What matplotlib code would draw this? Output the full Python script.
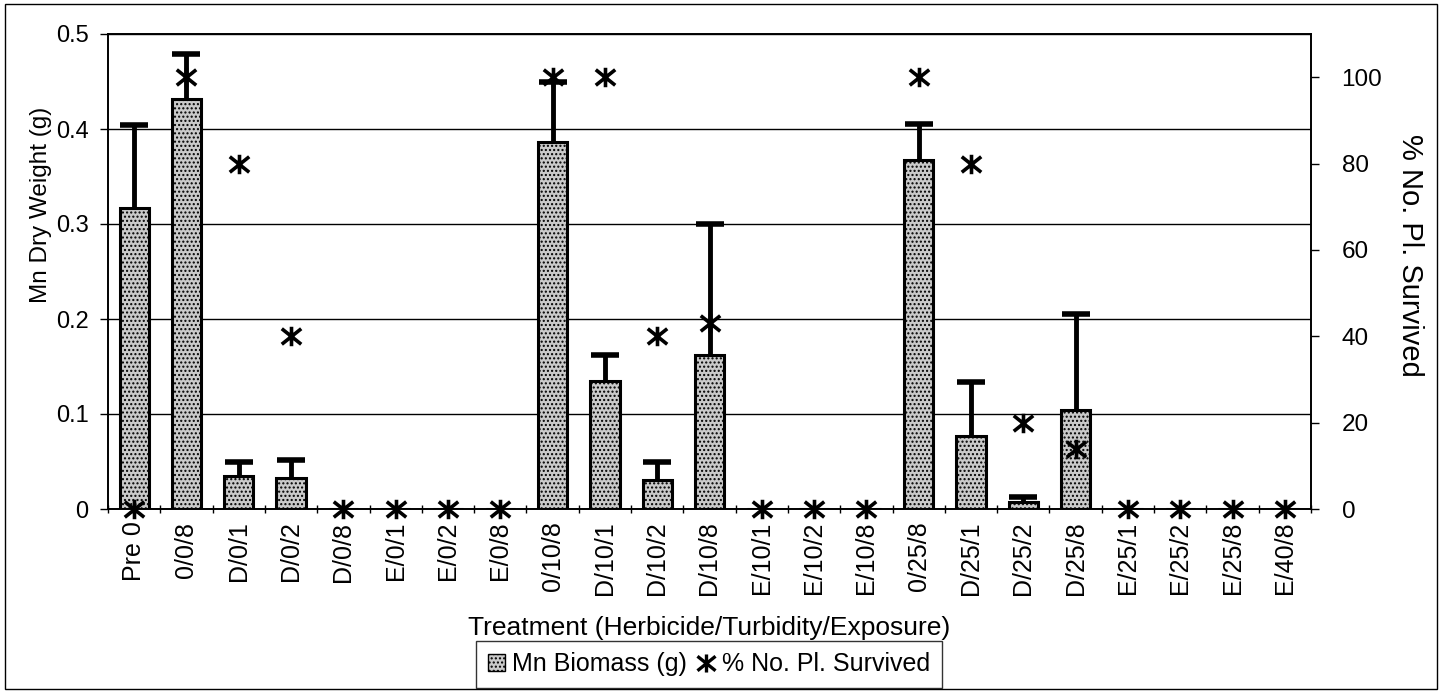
import numpy as np
import matplotlib
matplotlib.use("Agg")
import matplotlib.pyplot as plt
from matplotlib.path import Path
from matplotlib.patches import Rectangle
from matplotlib.lines import Line2D

plt.rcParams['font.family'] = ['Liberation Sans', 'DejaVu Sans']
plt.rcParams['hatch.color'] = '#9a9a9a'

categories = ["Pre 0", "0/0/8", "D/0/1", "D/0/2", "D/0/8", "E/0/1", "E/0/2", "E/0/8",
              "0/10/8", "D/10/1", "D/10/2", "D/10/8", "E/10/1", "E/10/2", "E/10/8",
              "0/25/8", "D/25/1", "D/25/2", "D/25/8", "E/25/1", "E/25/2", "E/25/8", "E/40/8"]
biomass = [0.317, 0.432, 0.035, 0.033, 0, 0, 0, 0,
           0.386, 0.135, 0.031, 0.162, 0, 0, 0,
           0.367, 0.077, 0.007, 0.104, 0, 0, 0, 0]
err_top = [0.404, 0.479, 0.050, 0.052, 0, 0, 0, 0,
           0.450, 0.162, 0.050, 0.300, 0, 0, 0,
           0.405, 0.134, 0.013, 0.205, 0, 0, 0, 0]
survived = [0, 100, 80, 40, 0, 0, 0, 0,
            100, 100, 40, 43, 0, 0, 0,
            100, 80, 20, 14, 0, 0, 0, 0]

x = np.arange(len(categories))
bio = np.array(biomass)
err_up = np.array(err_top) - bio
has_err = np.array(err_top) > 0

fig = plt.figure(figsize=(14.43, 6.93), dpi=100)
ax = fig.add_axes([108/1443, (693-509)/693, (1311-108)/1443, (509-34)/693])
ax2 = ax.twinx()

ax.set_axisbelow(True)
ax.yaxis.grid(True, color='black', linewidth=1.0)

ax.bar(x, bio, width=0.56, color='#cacaca', edgecolor='black', linewidth=2.2,
       hatch='....', zorder=2)
eb = ax.errorbar(x[has_err], bio[has_err],
                 yerr=[np.zeros(has_err.sum()), err_up[has_err]],
                 fmt='none', ecolor='black', elinewidth=3.5, capsize=10, capthick=4, zorder=3)
eb[1][0].set_visible(False)

ax.set_xlim(-0.5, len(categories) - 0.5)
ax.set_ylim(0, 0.5)
ax.set_yticks([0, 0.1, 0.2, 0.3, 0.4, 0.5])
ax.set_yticklabels(["0", "0.1", "0.2", "0.3", "0.4", "0.5"])
ax.set_xticks(x)
ax.set_xticklabels(categories, rotation=90, fontsize=18)
ax.set_xticks(np.arange(len(categories) + 1) - 0.5, minor=True)
ax.tick_params(axis='x', which='major', length=0, pad=9)
ax.tick_params(axis='x', which='minor', length=6, direction='inout', width=1)
ax.tick_params(axis='y', labelsize=17, length=6, width=1, pad=8)

verts = [(-1, -0.8), (1, 0.8), (-1, 0.8), (1, -0.8), (0, -1), (0, 1)]
codes = [Path.MOVETO, Path.LINETO] * 3
star = Path(verts, codes)

ax2.plot(x, survived, linestyle='none', marker=star, markersize=14,
         markeredgewidth=2.6, color='black', clip_on=False, zorder=5)
ax2.set_ylim(0, 110)
ax2.set_yticks([0, 20, 40, 60, 80, 100])
ax2.tick_params(axis='y', labelsize=17.5, length=6, width=1, pad=16)

for a in (ax, ax2):
    for s in a.spines.values():
        s.set_linewidth(1.2)
        s.set_color('black')

ax.set_ylabel("Mn Dry Weight (g)", fontsize=17.5, va='center')
ax.yaxis.set_label_coords((41 - 108) / 1203, (509 - 205) / 475)
ax2.set_ylabel("% No. Pl. Survived", fontsize=21, rotation=270, va='center')
ax2.yaxis.set_label_coords((1410 - 108) / 1203, (509 - 255) / 475)

fig.text(709/1443, (693-628)/693, "Treatment (Herbicide/Turbidity/Exposure)",
         ha='center', va='center', fontsize=19)

handles = [Rectangle((0, 0), 1, 1, facecolor='#cacaca', edgecolor='black', hatch='....', linewidth=1),
           Line2D([], [], linestyle='none', marker=star, markersize=13, markeredgewidth=2.4, color='black')]
leg = fig.legend(handles, ["Mn Biomass (g)", "% No. Pl. Survived"], ncol=2,
                 loc='upper center', bbox_to_anchor=(709/1443, (693-641)/693),
                 fontsize=18, frameon=True, fancybox=False, edgecolor='black',
                 handlelength=0.7, handleheight=0.7, handletextpad=0.3, columnspacing=0.4,
                 borderpad=0.45, borderaxespad=0)
leg.get_frame().set_linewidth(1.0)

fig.patches.append(Rectangle((5/1443, 4/693), 1432/1443, 685/693, transform=fig.transFigure,
                             fill=False, edgecolor='black', linewidth=1.0))

fig.savefig("out.png", dpi=100)
